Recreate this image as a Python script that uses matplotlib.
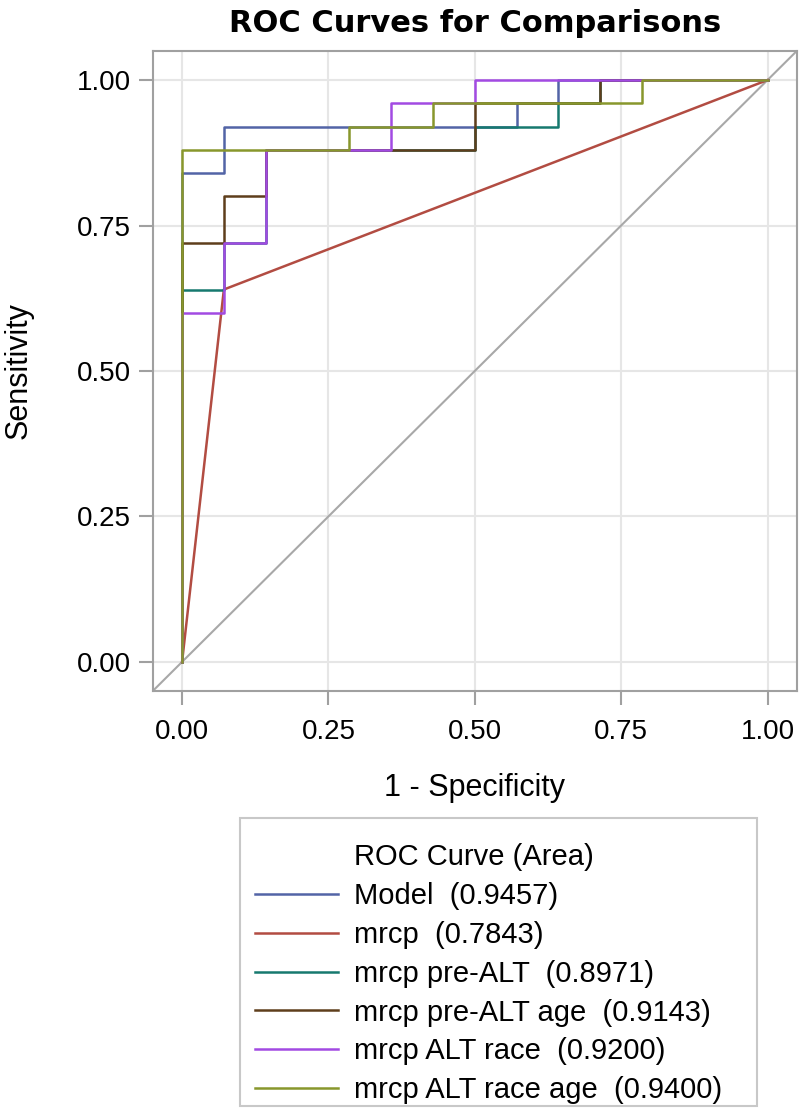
import matplotlib.pyplot as plt
from matplotlib.lines import Line2D
from matplotlib.patches import Rectangle

# ROC vertices (1 - specificity, sensitivity)
model_fpr = [0, 0, 0.0714, 0.0714, 0.5714, 0.5714, 0.6429, 0.6429, 1.0]
model_tpr = [0, 0.84, 0.84, 0.92, 0.92, 0.96, 0.96, 1.0, 1.0]

mrcp_fpr = [0, 0.0714, 1.0]
mrcp_tpr = [0, 0.64, 1.0]

preALT_fpr = [0, 0, 0.0714, 0.0714, 0.1429, 0.1429, 0.5, 0.5, 0.6429, 0.6429, 0.7143, 0.7143, 1.0]
preALT_tpr = [0, 0.64, 0.64, 0.72, 0.72, 0.88, 0.88, 0.92, 0.92, 0.96, 0.96, 1.0, 1.0]

preALTage_fpr = [0, 0, 0.0714, 0.0714, 0.1429, 0.1429, 0.5, 0.5, 0.7143, 0.7143, 1.0]
preALTage_tpr = [0, 0.72, 0.72, 0.80, 0.80, 0.88, 0.88, 0.96, 0.96, 1.0, 1.0]

ALTrace_fpr = [0, 0, 0.0714, 0.0714, 0.1429, 0.1429, 0.3571, 0.3571, 0.5, 0.5, 1.0]
ALTrace_tpr = [0, 0.60, 0.60, 0.72, 0.72, 0.88, 0.88, 0.96, 0.96, 1.0, 1.0]

ALTraceage_fpr = [0, 0, 0.2857, 0.2857, 0.4286, 0.4286, 0.7857, 0.7857, 1.0]
ALTraceage_tpr = [0, 0.88, 0.88, 0.92, 0.92, 0.96, 0.96, 1.0, 1.0]

labels = ["Model  (0.9457)", "mrcp  (0.7843)", "mrcp pre-ALT  (0.8971)",
          "mrcp pre-ALT age  (0.9143)", "mrcp ALT race  (0.9200)",
          "mrcp ALT race age  (0.9400)"]
colors = ["#5264a6", "#b24c42", "#16796f", "#5e3e1c", "#a24ae2", "#88972c"]
ticks = [0.0, 0.25, 0.5, 0.75, 1.0]
tick_labels = ["0.00", "0.25", "0.50", "0.75", "1.00"]

curves = [(model_fpr, model_tpr), (mrcp_fpr, mrcp_tpr), (preALT_fpr, preALT_tpr),
          (preALTage_fpr, preALTage_tpr), (ALTrace_fpr, ALTrace_tpr),
          (ALTraceage_fpr, ALTraceage_tpr)]

plt.rcParams['font.family'] = ['Liberation Sans', 'DejaVu Sans']

fig = plt.figure(figsize=(8, 11.1), dpi=100)
ax = fig.add_axes([0.191, 0.3775, 0.805, 0.5766])

lim = (-0.05, 1.05)
ax.set_xlim(lim)
ax.set_ylim(lim)

# reference diagonal
ax.plot(lim, lim, color="#a8a8a8", lw=1.5, zorder=2)

handles = []
for (fx, ty), col, lab in zip(curves, colors, labels):
    ln, = ax.plot(fx, ty, color=col, lw=1.8, zorder=3, label=lab)
    handles.append(ln)

ax.set_xticks(ticks)
ax.set_yticks(ticks)
ax.set_xticklabels(tick_labels)
ax.set_yticklabels(tick_labels)
ax.grid(True, color="#e6e6e6", lw=1.5, zorder=0)
ax.set_axisbelow(True)

for sp in ax.spines.values():
    sp.set_color("#a0a0a0")
    sp.set_linewidth(1.5)
ax.tick_params(axis='both', colors="#a0a0a0", length=10, width=1.5,
               labelsize=20, labelcolor="black")
ax.tick_params(axis='x', pad=10)
ax.tick_params(axis='y', pad=6)

ax.set_xlabel("1 - Specificity", fontsize=22)
ax.set_ylabel("Sensitivity", fontsize=22)
ax.xaxis.set_label_coords(0.5, -0.128)
ax.yaxis.set_label_coords(-0.185, 0.5)

ax.set_title("ROC Curves for Comparisons", family="DejaVu Sans",
             fontweight="bold", fontsize=22, pad=14)

# legend frame drawn separately so the padding can match the original
fig.patches.append(Rectangle((0.30, 0.004), 0.646, 0.259, transform=fig.transFigure,
                             fill=False, edgecolor="#c8c8c8", lw=1.5))

# legend title as an entry without a handle so it lines up with the labels
title_h = Line2D([], [], color="none")
leg = fig.legend([title_h] + handles, ["ROC Curve (Area)"] + labels,
                 loc="upper left", bbox_to_anchor=(0.319, 0.2402),
                 fontsize=21, frameon=False,
                 handlelength=2.85, handletextpad=0.55, labelspacing=0.37,
                 borderpad=0, borderaxespad=0)
for ln in leg.get_lines():
    ln.set_linewidth(1.8)

fig.savefig("out.png", dpi=100)
